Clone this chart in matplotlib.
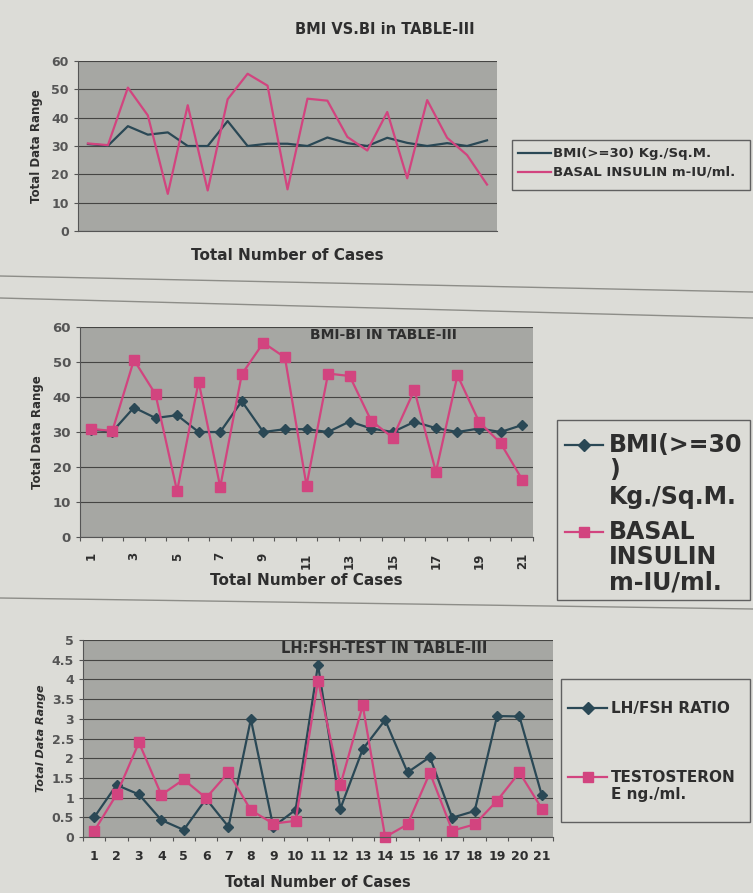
import matplotlib.pyplot as plt
from matplotlib.lines import Line2D
from matplotlib.patches import Rectangle

# values (same table used for chart 1 and 2)
cases = list(range(1, 22))
bmi = [30.7, 30.1, 37.0, 34.0, 34.8, 30.0, 30.0, 38.8, 30.0, 30.8, 30.8,
       30.0, 33.0, 31.0, 30.0, 32.9, 31.1, 30.0, 31.0, 30.0, 32.0]
insulin = [30.9, 30.3, 50.6, 40.8, 13.1, 44.4, 14.3, 46.5, 55.5, 51.3, 14.7,
           46.7, 46.0, 33.2, 28.4, 42.0, 18.6, 46.2, 32.9, 26.8, 16.4]
lh_fsh = [0.50, 1.32, 1.08, 0.43, 0.18, 0.97, 0.26, 2.99, 0.26, 0.69, 4.37,
          0.72, 2.23, 2.97, 1.64, 2.03, 0.49, 0.66, 3.07, 3.06, 1.06]
testosterone = [0.15, 1.08, 2.40, 1.07, 1.46, 0.99, 1.64, 0.68, 0.34, 0.41, 3.97,
                1.32, 3.34, 0.0, 0.32, 1.63, 0.16, 0.32, 0.92, 1.64, 0.72]

plt.rcParams['font.family'] = ['DejaVu Sans']
plt.rcParams['font.weight'] = 'bold'
plt.rcParams['axes.titleweight'] = 'bold'
plt.rcParams['axes.labelweight'] = 'bold'

BLUE = '#2a4855'
PINK = '#d2447f'
PLOT_BG = '#a6a7a3'
PAPER = '#dcdcd7'
GRID = '#454543'
TEXT = '#2e2e2e'
W, H = 753, 893

fig = plt.figure(figsize=(W / 100, H / 100), dpi=100, facecolor=PAPER)


def px(x, y):
  # pixel position (from top-left) -> figure fraction
  return x / W, 1 - y / H


def add_ax(x0, y0, x1, y1):
  return fig.add_axes([x0 / W, 1 - y1 / H, (x1 - x0) / W, (y1 - y0) / H])


def style_axes(ax, ymax, ystep, fs):
  ax.set_facecolor(PLOT_BG)
  ax.set_xlim(0.5, 21.5)
  ax.set_ylim(0, ymax)
  yt = [i * ystep for i in range(int(round(ymax / ystep)) + 1)]
  ax.set_yticks(yt)
  ax.set_yticklabels([f'{v:g}' for v in yt], fontsize=fs, color=TEXT)
  ax.grid(axis='y', color=GRID, linewidth=0.8)
  ax.set_axisbelow(True)
  for s in ['top', 'right']:
    ax.spines[s].set_visible(False)
  for s in ['left', 'bottom']:
    ax.spines[s].set_color('#555555')
  ax.tick_params(colors='#555555', length=3)


def legend_box(x0, y0, x1, y1):
  fx, fy = px(x0, y1)
  fig.add_artist(Rectangle((fx, fy), (x1 - x0) / W, (y1 - y0) / H,
                           transform=fig.transFigure, facecolor=PAPER,
                           edgecolor='#606060', lw=1.0))


def legend_entry(hx0, hx1, y, color, marker, ms, lines, tx, ys, fs):
  a, b = px(hx0, y)
  c, _ = px(hx1, y)
  fig.add_artist(Line2D([a, c], [b, b], color=color, lw=1.6))
  if marker:
    fig.add_artist(Line2D([(a + c) / 2], [b], color=color, marker=marker,
                          ms=ms, lw=0))
  for line, yy in zip(lines, ys):
    fig.text(*px(tx, yy), line, fontsize=fs, color=TEXT, va='center',
             ha='left', fontweight='bold')


# ---- chart 1: plain lines ----
ax1 = add_ax(78, 61, 497, 231)
style_axes(ax1, 60, 10, 9)
ax1.plot(cases, bmi, color=BLUE, lw=1.6)
ax1.plot(cases, insulin, color=PINK, lw=1.6)
ax1.set_xticks([])
ax1.set_ylabel('Total Data Range', fontsize=8.5, color=TEXT, labelpad=6)
ax1.set_xlabel('Total Number of Cases', fontsize=11, color=TEXT, labelpad=12)
fig.text(*px(385, 30), 'BMI VS.BI in TABLE-III', fontsize=10.5, color=TEXT,
         ha='center', va='center', fontweight='bold')
legend_box(512, 140, 750, 190)
legend_entry(518, 551, 153, BLUE, None, 0, ['BMI(>=30) Kg./Sq.M.'], 553,
             [153], 9.5)
legend_entry(518, 551, 172, PINK, None, 0, ['BASAL INSULIN m-IU/ml.'], 553,
             [172], 9.5)

# ---- chart 2: lines with markers ----
ax2 = add_ax(80, 327, 533, 537)
style_axes(ax2, 60, 10, 9.5)
ax2.plot(cases, bmi, color=BLUE, lw=1.6, marker='D', ms=5.5)
ax2.plot(cases, insulin, color=PINK, lw=1.6, marker='s', ms=6.5)
ax2.set_xticks([c + 0.5 for c in range(0, 22)])
ax2.set_xticklabels([])
ax2.set_xticks(cases[::2], minor=True)
ax2.set_xticklabels([str(c) for c in cases[::2]], minor=True, rotation=90,
                    fontsize=8.5, color=TEXT)
ax2.tick_params(axis='x', which='minor', length=0, pad=11)
ax2.set_ylabel('Total Data Range', fontsize=8.5, color=TEXT, labelpad=6)
ax2.set_xlabel('Total Number of Cases', fontsize=11, color=TEXT, labelpad=3)
ax2.text(0.67, 0.995, 'BMI-BI IN TABLE-III', transform=ax2.transAxes,
         ha='center', va='top', fontsize=10, color=TEXT, fontweight='bold')
legend_box(557, 420, 750, 600)
legend_entry(565, 603, 445, BLUE, 'D', 6, ['BMI(>=30', ')', 'Kg./Sq.M.'],
             609, [445, 470, 497], 17)
legend_entry(565, 603, 532, PINK, 's', 7, ['BASAL', 'INSULIN', 'm-IU/ml.'],
             609, [532, 557, 583], 17)

# ---- chart 3: LH/FSH and testosterone ----
ax3 = add_ax(83, 640, 553, 837)
style_axes(ax3, 5, 0.5, 9)
ax3.plot(cases, lh_fsh, color=BLUE, lw=1.6, marker='D', ms=5.5,
         clip_on=False)
ax3.plot(cases, testosterone, color=PINK, lw=1.6, marker='s', ms=6.5,
         clip_on=False)
ax3.set_xticks([c + 0.5 for c in range(0, 22)])
ax3.set_xticklabels([])
ax3.set_xticks(cases, minor=True)
ax3.set_xticklabels([str(c) for c in cases], minor=True, fontsize=9,
                    color=TEXT)
ax3.tick_params(axis='x', which='minor', length=0, pad=9)
ax3.set_ylabel('Total Data Range', fontsize=8, color=TEXT, style='italic',
               labelpad=4)
ax3.set_xlabel('Total Number of Cases', fontsize=10.5, color=TEXT, labelpad=9)
ax3.text(0.64, 0.995, 'LH:FSH-TEST IN TABLE-III', transform=ax3.transAxes,
         ha='center', va='top', fontsize=10.5, color=TEXT, fontweight='bold')
legend_box(561, 679, 750, 822)
legend_entry(568, 607, 708, BLUE, 'D', 6, ['LH/FSH RATIO'], 611, [708], 11)
legend_entry(568, 607, 777, PINK, 's', 7, ['TESTOSTERON', 'E ng./ml.'], 611,
             [777, 795], 11)

# page edges between the printed charts
for y0, y1 in [(276, 292), (298, 318), (598, 609)]:
  fig.add_artist(Line2D([0.0, 1.0], [1 - y0 / H, 1 - y1 / H],
                        color='#8d8d88', lw=1.0))

plt.savefig('out.png', dpi=100, facecolor=fig.get_facecolor())
